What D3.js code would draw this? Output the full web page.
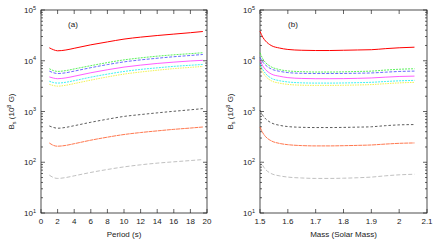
<!DOCTYPE html>
<html>
<head>
<meta charset="utf-8">
<script src="https://cdn.jsdelivr.net/npm/d3@7"></script>
<style>
  body { margin: 0; background: #fff; }
  svg { display: block; font-family: "Liberation Sans", Arial, sans-serif; }
</style>
</head>
<body>
<svg id="chart" width="440" height="240"></svg>
<script>
// ---- data ----
const period = [1, 1.5, 2, 3, 4, 6, 8, 10, 12, 14, 16, 18, 19.5]
const mass = [1.5, 1.51, 1.52, 1.54, 1.57, 1.6, 1.65, 1.7, 1.75, 1.8, 1.85, 1.9, 1.95, 2.0, 2.055]

const redA = [18000, 16500, 15700, 16300, 17600, 20600, 23500, 26700, 29200, 31400, 33500, 35700, 37700]
const greenA = [6960, 6400, 6170, 6400, 6900, 8000, 9200, 10400, 11400, 12300, 13100, 13800, 14400]
const blueA = [6250, 5800, 5600, 5800, 6250, 7300, 8400, 9500, 10400, 11200, 12000, 12700, 13300]
const magentaA = [4800, 4550, 4430, 4600, 4950, 5800, 6650, 7500, 8200, 8850, 9400, 9900, 10200]
const cyanA = [3950, 3720, 3630, 3770, 4050, 4750, 5450, 6150, 6750, 7250, 7750, 8150, 8450]
const yellowA = [3430, 3250, 3160, 3290, 3550, 4150, 4800, 5450, 6000, 6500, 7000, 7400, 7730]
const blackA = [519, 485, 468, 487, 525, 613, 705, 800, 870, 940, 1010, 1080, 1140]
const orangeA = [240, 215, 207, 215, 232, 272, 312, 352, 385, 415, 445, 472, 495]
const grayA = [55.8, 50, 48, 50, 54, 63, 72, 81, 89, 96, 102, 108, 113]

const redB = [38100, 29000, 24500, 20000, 17800, 16700, 16100, 15900, 15900, 16100, 16300, 16500, 17300, 18000, 18500]
const greenB = [14400, 10900, 9200, 7600, 6700, 6300, 6100, 6000, 6000, 6050, 6150, 6250, 6550, 6800, 6960]
const blueB = [11700, 9400, 8200, 6900, 6200, 5850, 5650, 5600, 5600, 5620, 5680, 5750, 5950, 6150, 6250]
const magentaB = [10100, 7900, 6700, 5500, 4950, 4650, 4480, 4430, 4430, 4450, 4500, 4580, 4750, 4900, 4980]
const cyanB = [8700, 6700, 5600, 4550, 4050, 3820, 3670, 3630, 3630, 3650, 3700, 3760, 3900, 4020, 4100]
const yellowB = [7600, 5900, 4950, 4050, 3620, 3420, 3300, 3270, 3270, 3290, 3330, 3390, 3530, 3660, 3750]
const blackB = [1060, 840, 720, 600, 535, 505, 488, 483, 483, 486, 492, 500, 525, 545, 553]
const orangeB = [495, 380, 320, 265, 235, 222, 213, 210, 210, 212, 215, 219, 228, 236, 240]
const grayB = [113, 86, 72, 60, 54, 51, 49, 48, 48, 48.5, 49.5, 51, 54, 56.5, 58]

const styles = [
  {color: "#ff0000", dash: null, w: 1},
  {color: "#33ee33", dash: "2,1", w: 0.8},
  {color: "#4444ff", dash: "3,1.5", w: 0.8},
  {color: "#ff33ff", dash: null, w: 0.8},
  {color: "#11eeee", dash: "2,1", w: 0.8},
  {color: "#eeee22", dash: "1.5,1", w: 0.8},
  {color: "#333333", dash: "2.5,2", w: 0.8},
  {color: "#ff5522", dash: "4,0.6", w: 0.8},
  {color: "#b0b0b0", dash: "4,2", w: 0.8}
]

const seriesA = [redA, greenA, blueA, magentaA, cyanA, yellowA, blackA, orangeA, grayA]
const seriesB = [redB, greenB, blueB, magentaB, cyanB, yellowB, blackB, orangeB, grayB]

const xTicksA = d3.range(0, 21, 2)
const xTicksB = [1.5, 1.6, 1.7, 1.8, 1.9, 2.0, 2.1]
const yTicks = [10, 100, 1000, 10000, 100000]

const svg = d3.select("#chart")
const plotTop = 10, plotBottom = 213

function panel(opts){
  const g = svg.append("g")
  const x = d3.scaleLinear().domain(opts.xDomain).range([opts.left, opts.right])
  const y = d3.scaleLog().domain([10, 100000]).range([plotBottom, plotTop])

  // frame
  g.append("rect")
      .attr("x", opts.left).attr("y", plotTop)
      .attr("width", opts.right - opts.left).attr("height", plotBottom - plotTop)
      .attr("fill", "none").attr("stroke", "#222").attr("stroke-width", 0.8)

  // y ticks (major + minor), inward on both sides
  const minor = []
  for (let d = 10; d < 100000; d *= 10) {
    for (let k = 2; k < 10; k++) minor.push(d * k)
  }
  const tk = g.append("g").attr("stroke", "#222").attr("stroke-width", 0.7)
  yTicks.forEach(v => {
    tk.append("line").attr("x1", opts.left).attr("x2", opts.left + 4).attr("y1", y(v)).attr("y2", y(v))
    tk.append("line").attr("x1", opts.right).attr("x2", opts.right - 4).attr("y1", y(v)).attr("y2", y(v))
  })
  minor.forEach(v => {
    tk.append("line").attr("x1", opts.left).attr("x2", opts.left + 2).attr("y1", y(v)).attr("y2", y(v))
    tk.append("line").attr("x1", opts.right).attr("x2", opts.right - 2).attr("y1", y(v)).attr("y2", y(v))
  })
  opts.xTicks.forEach(v => {
    tk.append("line").attr("x1", x(v)).attr("x2", x(v)).attr("y1", plotBottom).attr("y2", plotBottom - 4)
    tk.append("line").attr("x1", x(v)).attr("x2", x(v)).attr("y1", plotTop).attr("y2", plotTop + 4)
  })

  // y tick labels
  yTicks.forEach(v => {
    const t = g.append("text")
        .attr("x", opts.left - 5).attr("y", y(v) + 3)
        .attr("text-anchor", "end").attr("font-size", 8).attr("fill", "#222")
    t.append("tspan").text("10")
    t.append("tspan").attr("dy", -3.5).attr("font-size", 5.5).text(Math.round(Math.log10(v)))
  })

  // x tick labels
  opts.xTicks.forEach(v => {
    g.append("text")
        .attr("x", x(v)).attr("y", plotBottom + 11)
        .attr("text-anchor", "middle").attr("font-size", 8).attr("fill", "#222")
        .text(opts.fmt(v))
  })

  // axis titles
  g.append("text")
      .attr("x", (opts.left + opts.right) / 2).attr("y", 237)
      .attr("text-anchor", "middle").attr("font-size", 8).attr("fill", "#222")
      .text(opts.xLabel)
  const yl = g.append("text")
      .attr("transform", `translate(${opts.left - 27},${(plotTop + plotBottom) / 2}) rotate(-90)`)
      .attr("text-anchor", "middle").attr("font-size", 8).attr("fill", "#222")
  yl.append("tspan").text("B")
  yl.append("tspan").attr("dy", 2).attr("font-size", 5.5).text("s")
  yl.append("tspan").attr("dy", -2).text(" (10")
  yl.append("tspan").attr("dy", -3.5).attr("font-size", 5.5).text("8")
  yl.append("tspan").attr("dy", 3.5).text(" G)")

  g.append("text")
      .attr("x", opts.labelX).attr("y", 27)
      .attr("text-anchor", "middle").attr("font-size", 8).attr("fill", "#222")
      .text(opts.tag)

  // curves
  const line = d3.line()
      .x((d, i) => x(opts.xs[i]))
      .y(d => y(d))
      .curve(d3.curveMonotoneX)
  opts.series.forEach((s, i) => {
    g.append("path")
        .attr("d", line(s))
        .attr("fill", "none")
        .attr("stroke", styles[i].color)
        .attr("stroke-width", styles[i].w)
        .attr("stroke-dasharray", styles[i].dash)
  })
}

panel({
  left: 41, right: 207, xDomain: [0, 20], xTicks: xTicksA, xs: period,
  series: seriesA, fmt: d => String(d), xLabel: "Period (s)", tag: "(a)", labelX: 73
})
panel({
  left: 260, right: 427, xDomain: [1.5, 2.1], xTicks: xTicksB, xs: mass,
  series: seriesB, fmt: d => String(+d.toFixed(1)), xLabel: "Mass (Solar Mass)", tag: "(b)", labelX: 293
})
</script>
</body>
</html>
